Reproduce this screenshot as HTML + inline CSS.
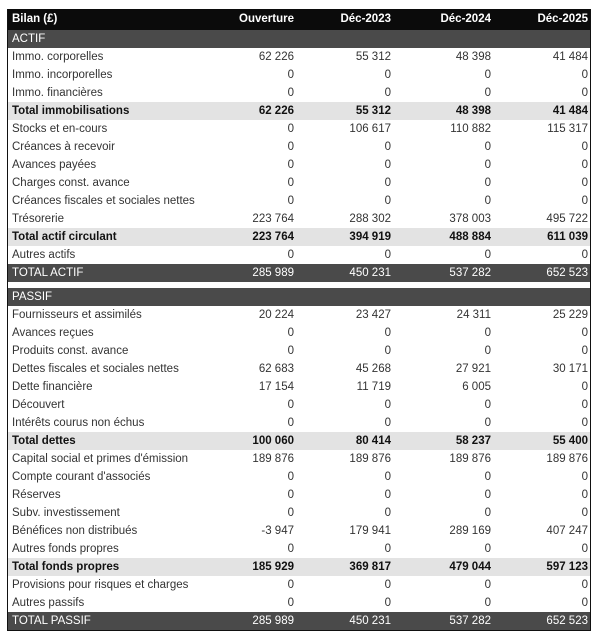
<!DOCTYPE html>
<html><head><meta charset="utf-8"><style>
body{margin:0;background:#fff;font-family:"Liberation Sans",sans-serif;}
#w{position:absolute;left:7px;top:9px;width:582px;border:1.5px solid #111;border-top:none;box-sizing:content-box;}
.r{position:relative;height:18px;line-height:18px;font-size:11.5px;color:#333;}
.r span{position:absolute;top:0;}
.l{left:4px;}
.c1{right:296px}.c2{right:199px}.c3{right:99px}.c4{right:2px}
.h{height:21px;line-height:21px;background:#0b0b0b;color:#fff;font-weight:bold;}
.s{background:#4a4a4a;color:#fff;}
.t{background:#e3e3e3;font-weight:bold;color:#111;}
.T{background:#4a4a4a;color:#fff;}
.g{height:6px;background:#fff;}
</style></head><body><div id="w">
<div class="r h"><span class="l">Bilan (£)</span><span class="c1">Ouverture</span><span class="c2">Déc-2023</span><span class="c3">Déc-2024</span><span class="c4">Déc-2025</span></div>
<div class="r s"><span class="l">ACTIF</span></div>
<div class="r"><span class="l">Immo. corporelles</span><span class="c1">62 226</span><span class="c2">55 312</span><span class="c3">48 398</span><span class="c4">41 484</span></div>
<div class="r"><span class="l">Immo. incorporelles</span><span class="c1">0</span><span class="c2">0</span><span class="c3">0</span><span class="c4">0</span></div>
<div class="r"><span class="l">Immo. financières</span><span class="c1">0</span><span class="c2">0</span><span class="c3">0</span><span class="c4">0</span></div>
<div class="r t"><span class="l">Total immobilisations</span><span class="c1">62 226</span><span class="c2">55 312</span><span class="c3">48 398</span><span class="c4">41 484</span></div>
<div class="r"><span class="l">Stocks et en-cours</span><span class="c1">0</span><span class="c2">106 617</span><span class="c3">110 882</span><span class="c4">115 317</span></div>
<div class="r"><span class="l">Créances à recevoir</span><span class="c1">0</span><span class="c2">0</span><span class="c3">0</span><span class="c4">0</span></div>
<div class="r"><span class="l">Avances payées</span><span class="c1">0</span><span class="c2">0</span><span class="c3">0</span><span class="c4">0</span></div>
<div class="r"><span class="l">Charges const. avance</span><span class="c1">0</span><span class="c2">0</span><span class="c3">0</span><span class="c4">0</span></div>
<div class="r"><span class="l">Créances fiscales et sociales nettes</span><span class="c1">0</span><span class="c2">0</span><span class="c3">0</span><span class="c4">0</span></div>
<div class="r"><span class="l">Trésorerie</span><span class="c1">223 764</span><span class="c2">288 302</span><span class="c3">378 003</span><span class="c4">495 722</span></div>
<div class="r t"><span class="l">Total actif circulant</span><span class="c1">223 764</span><span class="c2">394 919</span><span class="c3">488 884</span><span class="c4">611 039</span></div>
<div class="r"><span class="l">Autres actifs</span><span class="c1">0</span><span class="c2">0</span><span class="c3">0</span><span class="c4">0</span></div>
<div class="r T"><span class="l">TOTAL ACTIF</span><span class="c1">285 989</span><span class="c2">450 231</span><span class="c3">537 282</span><span class="c4">652 523</span></div>
<div class="g"></div>
<div class="r s"><span class="l">PASSIF</span></div>
<div class="r"><span class="l">Fournisseurs et assimilés</span><span class="c1">20 224</span><span class="c2">23 427</span><span class="c3">24 311</span><span class="c4">25 229</span></div>
<div class="r"><span class="l">Avances reçues</span><span class="c1">0</span><span class="c2">0</span><span class="c3">0</span><span class="c4">0</span></div>
<div class="r"><span class="l">Produits const. avance</span><span class="c1">0</span><span class="c2">0</span><span class="c3">0</span><span class="c4">0</span></div>
<div class="r"><span class="l">Dettes fiscales et sociales nettes</span><span class="c1">62 683</span><span class="c2">45 268</span><span class="c3">27 921</span><span class="c4">30 171</span></div>
<div class="r"><span class="l">Dette financière</span><span class="c1">17 154</span><span class="c2">11 719</span><span class="c3">6 005</span><span class="c4">0</span></div>
<div class="r"><span class="l">Découvert</span><span class="c1">0</span><span class="c2">0</span><span class="c3">0</span><span class="c4">0</span></div>
<div class="r"><span class="l">Intérêts courus non échus</span><span class="c1">0</span><span class="c2">0</span><span class="c3">0</span><span class="c4">0</span></div>
<div class="r t"><span class="l">Total dettes</span><span class="c1">100 060</span><span class="c2">80 414</span><span class="c3">58 237</span><span class="c4">55 400</span></div>
<div class="r"><span class="l">Capital social et primes d'émission</span><span class="c1">189 876</span><span class="c2">189 876</span><span class="c3">189 876</span><span class="c4">189 876</span></div>
<div class="r"><span class="l">Compte courant d'associés</span><span class="c1">0</span><span class="c2">0</span><span class="c3">0</span><span class="c4">0</span></div>
<div class="r"><span class="l">Réserves</span><span class="c1">0</span><span class="c2">0</span><span class="c3">0</span><span class="c4">0</span></div>
<div class="r"><span class="l">Subv. investissement</span><span class="c1">0</span><span class="c2">0</span><span class="c3">0</span><span class="c4">0</span></div>
<div class="r"><span class="l">Bénéfices non distribués</span><span class="c1">-3 947</span><span class="c2">179 941</span><span class="c3">289 169</span><span class="c4">407 247</span></div>
<div class="r"><span class="l">Autres fonds propres</span><span class="c1">0</span><span class="c2">0</span><span class="c3">0</span><span class="c4">0</span></div>
<div class="r t"><span class="l">Total fonds propres</span><span class="c1">185 929</span><span class="c2">369 817</span><span class="c3">479 044</span><span class="c4">597 123</span></div>
<div class="r"><span class="l">Provisions pour risques et charges</span><span class="c1">0</span><span class="c2">0</span><span class="c3">0</span><span class="c4">0</span></div>
<div class="r"><span class="l">Autres passifs</span><span class="c1">0</span><span class="c2">0</span><span class="c3">0</span><span class="c4">0</span></div>
<div class="r T"><span class="l">TOTAL PASSIF</span><span class="c1">285 989</span><span class="c2">450 231</span><span class="c3">537 282</span><span class="c4">652 523</span></div>
</div></body></html>
